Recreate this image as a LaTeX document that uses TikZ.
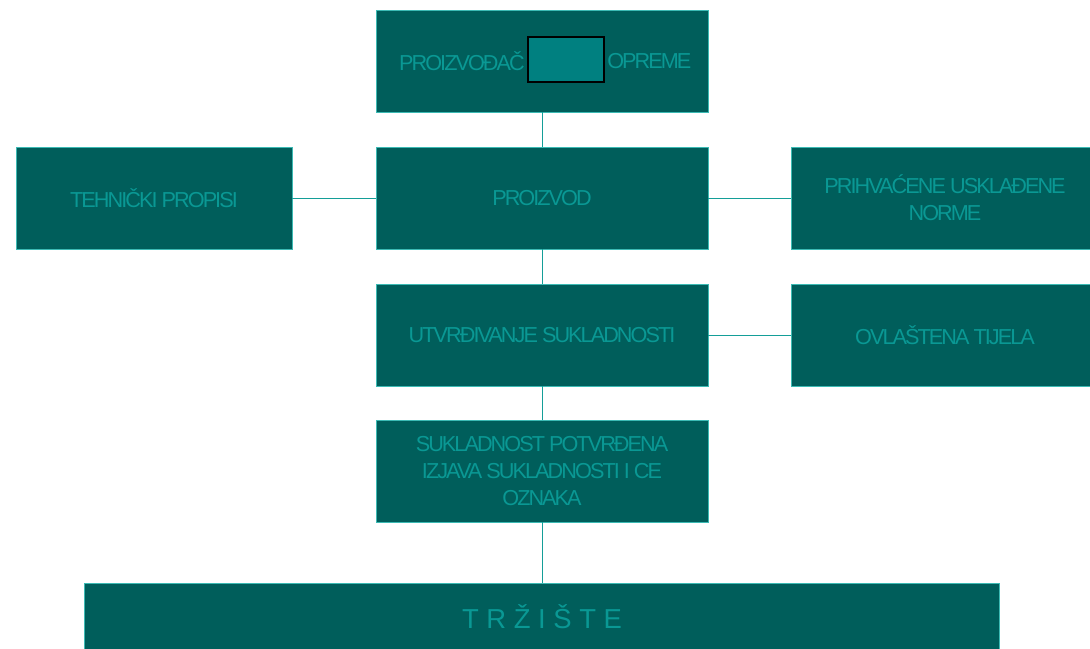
\documentclass[tikz,border=0pt]{standalone}
\usepackage{fontspec}
\newfontfamily\boxfont{Liberation Sans}[LetterSpace=-9]
\newfontfamily\marketfont{Liberation Sans}
\definecolor{boxfill}{RGB}{0,94,91}
\definecolor{boxtext}{RGB}{10,152,148}
\definecolor{boxline}{RGB}{60,186,180}
\definecolor{linkline}{RGB}{20,158,152}
\definecolor{logofill}{RGB}{0,128,128}

\begin{document}
\begin{tikzpicture}[x=0.025cm,y=-0.025cm,
  block/.style={draw=boxline,fill=boxfill,text=boxtext,line width=0.6pt,
    inner sep=0pt,minimum width=8.3cm,minimum height=2.55cm,align=center,
    font=\boxfont\fontsize{15.4}{19.2}\selectfont},
  link/.style={draw=linkline,line width=0.6pt}]
\useasboundingbox (0,0) rectangle (1090,649);
\clip (0,0) rectangle (1090,649);
% middle column
\node[block] (proizvodjac) at (542,61) {};
\node[block] (proizvod) at (542,198) {PROIZVOD};
\node[block] (utvrdjivanje) at (542,335) {UTVRĐIVANJE SUKLADNOSTI};
\node[block] (potvrdjena) at (542,471) {SUKLADNOST POTVRĐENA\\IZJAVA SUKLADNOSTI I CE\\OZNAKA};
% side boxes
\node[block,minimum width=6.9cm] (propisi) at (154,198) {TEHNIČKI PROPISI};
\node[block,minimum width=7.7cm] (norme) at (945,198) {PRIHVAĆENE USKLAĐENE\\NORME};
\node[block,minimum width=7.7cm] (tijela) at (945,335) {OVLAŠTENA TIJELA};
% market bar
\node[block,minimum width=22.85cm,minimum height=1.7cm,
  font=\marketfont\fontsize{19.5}{22}\selectfont] (trziste) at (542,617) {T R Ž I Š T E};
% title with the small logo box
\node[draw=black,fill=logofill,line width=1.2pt,minimum width=1.9cm,
  minimum height=1.125cm,inner sep=0pt] (logo) at (566,59.5) {};
\node[text=boxtext,font=\boxfont\fontsize{15.4}{19.2}\selectfont,anchor=east,inner sep=0pt]
  (proiz) at (525,61) {PROIZVOĐAČ};
\node[text=boxtext,font=\boxfont\fontsize{15.4}{19.2}\selectfont,anchor=west,inner sep=0pt]
  (opreme) at (607,61) {OPREME};
% connectors
\draw[link] (proizvodjac.south) -- (proizvod.north);
\draw[link] (propisi.east) -- (proizvod.west);
\draw[link] (proizvod.east) -- (norme.west);
\draw[link] (proizvod.south) -- (utvrdjivanje.north);
\draw[link] (utvrdjivanje.east) -- (tijela.west);
\draw[link] (utvrdjivanje.south) -- (potvrdjena.north);
\draw[link] (potvrdjena.south) -- (trziste.north);
\end{tikzpicture}
\end{document}
